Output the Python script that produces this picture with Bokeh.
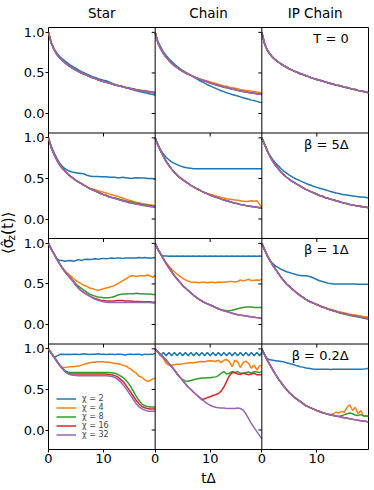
import math
from bokeh.plotting import figure
from bokeh.layouts import row
from bokeh.models import Range1d, FixedTicker, Label, Span, LinearAxis
from bokeh.core.properties import value
from bokeh.embed import file_html
from bokeh.resources import INLINE

FONT = "DejaVu Sans"
COLORS = ["#1f77b4", "#ff7f0e", "#2ca02c", "#d62728", "#9467bd"]
chis = [2, 4, 8, 16, 32]
col_titles = ["Star", "Chain", "IP Chain"]
row_notes = ["T = 0", "β = 5Δ", "β = 1Δ", "β = 0.2Δ"]
y_ticks = [0.0, 0.5, 1.0]
y_tick_labels = ["0.0", "0.5", "1.0"]
x_ticks = [0, 10]
x_tick_labels = ["0", "10"]

# time grid tΔ (step 0.5, last sample at the right edge 19.4)
t = [i * 0.5 for i in range(39)] + [19.4]

# ---------------- T = 0 ----------------
star_T0_chi2 = [1.0, 0.87, 0.80, 0.745, 0.705, 0.675, 0.645, 0.62, 0.595, 0.575, 0.555, 0.535, 0.515, 0.50, 0.485, 0.47, 0.455, 0.445, 0.43, 0.42, 0.41, 0.405, 0.39, 0.375, 0.36, 0.35, 0.34, 0.33, 0.32, 0.31, 0.30, 0.29, 0.28, 0.27, 0.265, 0.255, 0.25, 0.24, 0.235, 0.225]
star_T0_chi4 = [1.0, 0.87, 0.79, 0.73, 0.69, 0.655, 0.625, 0.60, 0.575, 0.555, 0.535, 0.515, 0.50, 0.485, 0.47, 0.455, 0.44, 0.43, 0.415, 0.405, 0.395, 0.385, 0.375, 0.365, 0.36, 0.35, 0.34, 0.335, 0.325, 0.32, 0.31, 0.305, 0.295, 0.29, 0.285, 0.28, 0.275, 0.27, 0.265, 0.26]
star_T0_chi32 = [1.0, 0.87, 0.79, 0.73, 0.69, 0.655, 0.625, 0.60, 0.575, 0.555, 0.535, 0.515, 0.50, 0.485, 0.47, 0.455, 0.44, 0.43, 0.415, 0.405, 0.395, 0.385, 0.375, 0.365, 0.355, 0.345, 0.34, 0.33, 0.32, 0.315, 0.305, 0.30, 0.29, 0.285, 0.28, 0.275, 0.27, 0.265, 0.26, 0.255]

chain_T0_chi2 = [1.0, 0.89, 0.82, 0.76, 0.715, 0.675, 0.64, 0.61, 0.58, 0.555, 0.53, 0.51, 0.49, 0.47, 0.45, 0.43, 0.41, 0.39, 0.375, 0.355, 0.34, 0.325, 0.31, 0.295, 0.28, 0.27, 0.255, 0.245, 0.235, 0.225, 0.215, 0.205, 0.195, 0.185, 0.175, 0.165, 0.16, 0.15, 0.14, 0.135]
chain_T0_chi4 = [1.0, 0.87, 0.80, 0.74, 0.695, 0.655, 0.62, 0.59, 0.565, 0.54, 0.52, 0.50, 0.485, 0.47, 0.455, 0.44, 0.43, 0.42, 0.41, 0.40, 0.39, 0.38, 0.37, 0.36, 0.35, 0.34, 0.335, 0.325, 0.32, 0.31, 0.305, 0.295, 0.29, 0.285, 0.28, 0.275, 0.27, 0.265, 0.26, 0.255]
chain_T0_chi32 = [1.0, 0.87, 0.80, 0.74, 0.695, 0.655, 0.62, 0.59, 0.565, 0.54, 0.52, 0.50, 0.485, 0.47, 0.455, 0.44, 0.425, 0.41, 0.40, 0.39, 0.375, 0.365, 0.355, 0.345, 0.335, 0.325, 0.32, 0.31, 0.30, 0.295, 0.285, 0.28, 0.27, 0.265, 0.26, 0.255, 0.25, 0.245, 0.24, 0.235]

ip_T0_all = [1.0, 0.86, 0.78, 0.73, 0.69, 0.66, 0.635, 0.61, 0.59, 0.57, 0.55, 0.535, 0.52, 0.505, 0.49, 0.48, 0.465, 0.455, 0.44, 0.43, 0.42, 0.41, 0.40, 0.39, 0.38, 0.37, 0.36, 0.35, 0.345, 0.335, 0.325, 0.32, 0.31, 0.30, 0.295, 0.285, 0.28, 0.27, 0.265, 0.255]

# ---------------- beta = 5 ----------------
star_b5_chi2 = [1.0, 0.90, 0.82, 0.75, 0.69, 0.65, 0.62, 0.60, 0.585, 0.575, 0.57, 0.565, 0.56, 0.555, 0.54, 0.53, 0.525, 0.525, 0.525, 0.52, 0.52, 0.52, 0.515, 0.515, 0.515, 0.51, 0.51, 0.515, 0.51, 0.505, 0.50, 0.505, 0.51, 0.505, 0.505, 0.505, 0.50, 0.50, 0.495, 0.49]
star_b5_chi4 = [1.0, 0.88, 0.80, 0.73, 0.67, 0.63, 0.59, 0.555, 0.525, 0.50, 0.475, 0.455, 0.435, 0.415, 0.395, 0.38, 0.37, 0.36, 0.35, 0.34, 0.33, 0.32, 0.31, 0.30, 0.29, 0.28, 0.27, 0.26, 0.245, 0.235, 0.225, 0.215, 0.205, 0.20, 0.19, 0.185, 0.18, 0.175, 0.17, 0.165]
star_b5_chi8 = [1.0, 0.88, 0.80, 0.73, 0.67, 0.63, 0.59, 0.555, 0.525, 0.50, 0.475, 0.455, 0.435, 0.415, 0.395, 0.375, 0.36, 0.345, 0.33, 0.315, 0.30, 0.29, 0.275, 0.265, 0.262, 0.252, 0.243, 0.234, 0.225, 0.216, 0.21, 0.20, 0.195, 0.19, 0.18, 0.175, 0.17, 0.165, 0.16, 0.155]
star_b5_chi32 = [1.0, 0.88, 0.80, 0.73, 0.67, 0.63, 0.59, 0.555, 0.525, 0.50, 0.475, 0.455, 0.435, 0.415, 0.395, 0.375, 0.36, 0.345, 0.33, 0.315, 0.30, 0.29, 0.275, 0.265, 0.255, 0.245, 0.235, 0.225, 0.215, 0.205, 0.20, 0.19, 0.185, 0.18, 0.17, 0.165, 0.16, 0.155, 0.15, 0.145]

chain_b5_chi2 = [1.0, 0.92, 0.85, 0.80, 0.76, 0.73, 0.705, 0.685, 0.67, 0.655, 0.645, 0.635, 0.63, 0.625, 0.62, 0.62, 0.62, 0.62, 0.62, 0.62, 0.62, 0.62, 0.62, 0.62, 0.62, 0.62, 0.62, 0.62, 0.62, 0.62, 0.62, 0.62, 0.62, 0.62, 0.62, 0.62, 0.62, 0.62, 0.62, 0.62]
chain_b5_chi4 = [1.0, 0.91, 0.84, 0.77, 0.71, 0.66, 0.615, 0.575, 0.54, 0.51, 0.485, 0.46, 0.44, 0.415, 0.395, 0.375, 0.36, 0.34, 0.325, 0.315, 0.305, 0.295, 0.285, 0.275, 0.265, 0.258, 0.25, 0.245, 0.24, 0.235, 0.23, 0.225, 0.22, 0.215, 0.22, 0.225, 0.22, 0.225, 0.18, 0.13]
chain_b5_chi32 = [1.0, 0.91, 0.84, 0.77, 0.71, 0.66, 0.615, 0.575, 0.54, 0.51, 0.485, 0.46, 0.44, 0.415, 0.395, 0.375, 0.36, 0.34, 0.325, 0.31, 0.295, 0.28, 0.27, 0.26, 0.245, 0.235, 0.225, 0.215, 0.205, 0.195, 0.19, 0.18, 0.175, 0.165, 0.16, 0.155, 0.15, 0.145, 0.14, 0.135]

ip_b5_chi2 = [1.0, 0.92, 0.84, 0.78, 0.73, 0.69, 0.655, 0.62, 0.59, 0.565, 0.54, 0.52, 0.50, 0.485, 0.47, 0.455, 0.44, 0.425, 0.415, 0.40, 0.39, 0.38, 0.37, 0.36, 0.35, 0.34, 0.33, 0.32, 0.315, 0.305, 0.30, 0.295, 0.29, 0.285, 0.28, 0.275, 0.27, 0.27, 0.265, 0.26]
ip_b5_chi32 = [1.0, 0.92, 0.84, 0.77, 0.71, 0.66, 0.62, 0.58, 0.545, 0.515, 0.49, 0.465, 0.445, 0.425, 0.405, 0.385, 0.365, 0.35, 0.335, 0.32, 0.305, 0.29, 0.28, 0.265, 0.255, 0.245, 0.235, 0.225, 0.215, 0.205, 0.195, 0.19, 0.18, 0.175, 0.165, 0.16, 0.155, 0.15, 0.145, 0.14]

# ---------------- beta = 1 ----------------
star_b1_chi2 = [1.0, 0.93, 0.87, 0.81, 0.79, 0.79, 0.78, 0.785, 0.79, 0.78, 0.79, 0.80, 0.79, 0.80, 0.805, 0.80, 0.805, 0.81, 0.805, 0.81, 0.815, 0.81, 0.815, 0.82, 0.815, 0.82, 0.82, 0.815, 0.82, 0.82, 0.82, 0.82, 0.82, 0.825, 0.82, 0.825, 0.82, 0.82, 0.82, 0.825]
star_b1_chi4 = [1.0, 0.93, 0.87, 0.81, 0.75, 0.70, 0.66, 0.63, 0.60, 0.57, 0.54, 0.52, 0.50, 0.48, 0.47, 0.45, 0.44, 0.43, 0.42, 0.43, 0.44, 0.45, 0.46, 0.47, 0.48, 0.50, 0.52, 0.54, 0.56, 0.58, 0.60, 0.60, 0.59, 0.60, 0.60, 0.60, 0.61, 0.60, 0.58, 0.61]
star_b1_chi8 = [1.0, 0.93, 0.87, 0.81, 0.75, 0.70, 0.65, 0.61, 0.575, 0.54, 0.50, 0.47, 0.445, 0.42, 0.395, 0.375, 0.36, 0.35, 0.34, 0.335, 0.33, 0.33, 0.33, 0.335, 0.345, 0.36, 0.37, 0.375, 0.375, 0.38, 0.38, 0.38, 0.385, 0.38, 0.38, 0.375, 0.375, 0.375, 0.37, 0.37]
star_b1_chi16 = [1.0, 0.93, 0.87, 0.81, 0.75, 0.70, 0.65, 0.61, 0.57, 0.53, 0.48, 0.445, 0.415, 0.39, 0.37, 0.35, 0.335, 0.32, 0.31, 0.30, 0.295, 0.29, 0.29, 0.29, 0.29, 0.295, 0.295, 0.295, 0.29, 0.29, 0.29, 0.285, 0.285, 0.285, 0.28, 0.28, 0.28, 0.28, 0.275, 0.275]
star_b1_chi32 = [1.0, 0.93, 0.87, 0.81, 0.75, 0.70, 0.65, 0.61, 0.57, 0.53, 0.48, 0.445, 0.415, 0.39, 0.37, 0.35, 0.33, 0.31, 0.30, 0.29, 0.28, 0.275, 0.27, 0.27, 0.27, 0.27, 0.27, 0.27, 0.27, 0.27, 0.27, 0.27, 0.27, 0.27, 0.27, 0.27, 0.27, 0.27, 0.265, 0.265]

chain_b1_chi2 = [1.0, 0.92, 0.86, 0.845, 0.845, 0.84, 0.845, 0.84, 0.845, 0.84, 0.845, 0.84, 0.845, 0.84, 0.845, 0.84, 0.845, 0.84, 0.845, 0.84, 0.845, 0.84, 0.845, 0.84, 0.845, 0.84, 0.845, 0.84, 0.845, 0.84, 0.845, 0.84, 0.845, 0.84, 0.845, 0.84, 0.845, 0.84, 0.845, 0.84]
chain_b1_chi4 = [1.0, 0.93, 0.87, 0.81, 0.76, 0.72, 0.68, 0.65, 0.62, 0.595, 0.57, 0.55, 0.535, 0.525, 0.52, 0.52, 0.515, 0.52, 0.52, 0.515, 0.52, 0.52, 0.515, 0.525, 0.52, 0.52, 0.525, 0.53, 0.53, 0.525, 0.53, 0.55, 0.535, 0.545, 0.56, 0.54, 0.545, 0.55, 0.545, 0.56]
chain_b1_chi8 = [1.0, 0.93, 0.87, 0.81, 0.75, 0.70, 0.65, 0.60, 0.56, 0.52, 0.48, 0.45, 0.42, 0.39, 0.36, 0.335, 0.31, 0.29, 0.27, 0.255, 0.24, 0.225, 0.21, 0.195, 0.18, 0.175, 0.17, 0.17, 0.175, 0.185, 0.195, 0.205, 0.21, 0.215, 0.215, 0.215, 0.21, 0.21, 0.21, 0.21]
chain_b1_chi32 = [1.0, 0.93, 0.87, 0.81, 0.75, 0.70, 0.65, 0.60, 0.56, 0.52, 0.48, 0.45, 0.42, 0.39, 0.36, 0.335, 0.31, 0.29, 0.27, 0.255, 0.24, 0.225, 0.21, 0.195, 0.18, 0.17, 0.16, 0.15, 0.14, 0.13, 0.12, 0.115, 0.11, 0.105, 0.10, 0.095, 0.09, 0.085, 0.08, 0.075]

ip_b1_chi2 = [1.0, 0.93, 0.84, 0.78, 0.75, 0.72, 0.70, 0.68, 0.665, 0.65, 0.64, 0.63, 0.62, 0.61, 0.605, 0.60, 0.60, 0.595, 0.585, 0.57, 0.555, 0.54, 0.53, 0.52, 0.51, 0.505, 0.50, 0.50, 0.50, 0.50, 0.50, 0.50, 0.50, 0.50, 0.50, 0.495, 0.495, 0.495, 0.495, 0.495]
ip_b1_chi4 = [1.0, 0.92, 0.85, 0.79, 0.73, 0.68, 0.63, 0.58, 0.54, 0.50, 0.47, 0.44, 0.41, 0.38, 0.355, 0.335, 0.31, 0.29, 0.275, 0.26, 0.25, 0.235, 0.222, 0.21, 0.198, 0.188, 0.178, 0.168, 0.158, 0.15, 0.142, 0.135, 0.128, 0.122, 0.116, 0.11, 0.105, 0.10, 0.096, 0.092]
ip_b1_chi8 = [1.0, 0.92, 0.85, 0.79, 0.73, 0.68, 0.63, 0.58, 0.54, 0.50, 0.47, 0.44, 0.41, 0.38, 0.355, 0.335, 0.31, 0.29, 0.275, 0.26, 0.245, 0.23, 0.215, 0.205, 0.19, 0.18, 0.17, 0.16, 0.145, 0.135, 0.128, 0.12, 0.112, 0.105, 0.098, 0.092, 0.085, 0.078, 0.072, 0.066]
ip_b1_chi32 = [1.0, 0.92, 0.85, 0.79, 0.73, 0.68, 0.63, 0.58, 0.54, 0.50, 0.47, 0.44, 0.41, 0.38, 0.355, 0.335, 0.31, 0.29, 0.275, 0.26, 0.245, 0.23, 0.215, 0.205, 0.19, 0.18, 0.17, 0.16, 0.15, 0.14, 0.135, 0.125, 0.12, 0.11, 0.105, 0.10, 0.09, 0.085, 0.08, 0.075]

# ---------------- beta = 0.2 ----------------
star_b02_chi2 = [1.0, 0.94, 0.90, 0.91, 0.93, 0.935, 0.93, 0.935, 0.93, 0.935, 0.935, 0.93, 0.935, 0.94, 0.935, 0.93, 0.935, 0.935, 0.94, 0.935, 0.935, 0.93, 0.935, 0.935, 0.93, 0.935, 0.935, 0.93, 0.925, 0.935, 0.935, 0.93, 0.935, 0.935, 0.925, 0.935, 0.93, 0.935, 0.935, 0.945]
star_b02_chi4 = [1.0, 0.95, 0.90, 0.85, 0.80, 0.775, 0.77, 0.775, 0.78, 0.78, 0.785, 0.79, 0.80, 0.81, 0.82, 0.83, 0.835, 0.835, 0.84, 0.84, 0.84, 0.835, 0.835, 0.83, 0.82, 0.82, 0.81, 0.80, 0.79, 0.77, 0.75, 0.72, 0.70, 0.66, 0.65, 0.62, 0.60, 0.61, 0.63, 0.64]
star_b02_chi8 = [1.0, 0.95, 0.90, 0.85, 0.80, 0.76, 0.73, 0.715, 0.71, 0.71, 0.71, 0.71, 0.71, 0.71, 0.71, 0.71, 0.71, 0.71, 0.71, 0.71, 0.71, 0.71, 0.71, 0.705, 0.70, 0.69, 0.67, 0.65, 0.62, 0.58, 0.53, 0.47, 0.41, 0.36, 0.32, 0.30, 0.29, 0.285, 0.285, 0.285]
star_b02_chi16 = [1.0, 0.95, 0.90, 0.85, 0.80, 0.76, 0.72, 0.70, 0.69, 0.69, 0.69, 0.69, 0.69, 0.69, 0.69, 0.69, 0.69, 0.69, 0.69, 0.69, 0.69, 0.69, 0.685, 0.68, 0.67, 0.66, 0.63, 0.60, 0.56, 0.51, 0.46, 0.41, 0.36, 0.32, 0.29, 0.275, 0.265, 0.26, 0.26, 0.26]
star_b02_chi32 = [1.0, 0.95, 0.90, 0.85, 0.80, 0.76, 0.72, 0.695, 0.68, 0.675, 0.672, 0.67, 0.67, 0.67, 0.67, 0.67, 0.67, 0.67, 0.67, 0.67, 0.67, 0.67, 0.665, 0.66, 0.65, 0.63, 0.60, 0.56, 0.52, 0.47, 0.42, 0.37, 0.32, 0.285, 0.26, 0.245, 0.235, 0.23, 0.23, 0.23]

chain_b02_chi2 = [1.0, 0.955, 0.915, 0.955, 0.915, 0.955, 0.915, 0.955, 0.915, 0.955, 0.915, 0.955, 0.915, 0.955, 0.915, 0.955, 0.915, 0.955, 0.915, 0.955, 0.915, 0.955, 0.915, 0.955, 0.915, 0.955, 0.915, 0.955, 0.915, 0.955, 0.915, 0.955, 0.915, 0.955, 0.915, 0.955, 0.915, 0.955, 0.915, 0.955]
chain_b02_chi4 = [1.0, 0.96, 0.92, 0.88, 0.82, 0.80, 0.80, 0.805, 0.81, 0.81, 0.815, 0.82, 0.825, 0.83, 0.83, 0.835, 0.84, 0.845, 0.84, 0.85, 0.855, 0.85, 0.845, 0.86, 0.83, 0.86, 0.87, 0.84, 0.78, 0.86, 0.84, 0.77, 0.83, 0.85, 0.82, 0.76, 0.80, 0.74, 0.79, 0.80]
chain_b02_chi8 = [1.0, 0.965, 0.93, 0.895, 0.86, 0.82, 0.78, 0.74, 0.69, 0.65, 0.62, 0.605, 0.60, 0.61, 0.62, 0.63, 0.635, 0.64, 0.64, 0.645, 0.645, 0.65, 0.655, 0.67, 0.70, 0.72, 0.69, 0.70, 0.72, 0.71, 0.72, 0.70, 0.70, 0.71, 0.715, 0.70, 0.72, 0.715, 0.71, 0.72]
chain_b02_chi16 = [1.0, 0.965, 0.93, 0.895, 0.86, 0.82, 0.78, 0.74, 0.69, 0.65, 0.61, 0.57, 0.53, 0.50, 0.465, 0.435, 0.405, 0.375, 0.385, 0.40, 0.41, 0.425, 0.435, 0.45, 0.48, 0.53, 0.60, 0.67, 0.71, 0.705, 0.69, 0.685, 0.70, 0.69, 0.68, 0.69, 0.70, 0.68, 0.68, 0.68]
chain_b02_chi32 = [1.0, 0.965, 0.93, 0.895, 0.86, 0.82, 0.78, 0.74, 0.69, 0.65, 0.61, 0.57, 0.53, 0.50, 0.465, 0.435, 0.405, 0.375, 0.35, 0.325, 0.305, 0.29, 0.28, 0.275, 0.27, 0.27, 0.265, 0.265, 0.265, 0.265, 0.27, 0.265, 0.245, 0.20, 0.14, 0.08, 0.03, -0.02, -0.07, -0.11]

ip_b02_chi2 = [1.0, 0.93, 0.88, 0.865, 0.86, 0.855, 0.85, 0.845, 0.84, 0.83, 0.82, 0.81, 0.80, 0.79, 0.78, 0.775, 0.765, 0.76, 0.755, 0.75, 0.75, 0.75, 0.748, 0.75, 0.748, 0.745, 0.75, 0.748, 0.75, 0.748, 0.75, 0.75, 0.748, 0.75, 0.75, 0.748, 0.75, 0.752, 0.755, 0.76]
ip_b02_chi4 = [1.0, 0.93, 0.86, 0.80, 0.74, 0.685, 0.63, 0.585, 0.54, 0.50, 0.46, 0.43, 0.40, 0.375, 0.35, 0.325, 0.30, 0.285, 0.27, 0.255, 0.24, 0.228, 0.215, 0.205, 0.195, 0.188, 0.20, 0.22, 0.21, 0.23, 0.22, 0.28, 0.31, 0.24, 0.28, 0.20, 0.24, 0.17, 0.18, 0.17]
ip_b02_chi8 = [1.0, 0.93, 0.86, 0.80, 0.74, 0.685, 0.63, 0.585, 0.54, 0.50, 0.46, 0.43, 0.40, 0.375, 0.35, 0.325, 0.30, 0.285, 0.27, 0.255, 0.24, 0.228, 0.215, 0.205, 0.195, 0.188, 0.18, 0.172, 0.17, 0.175, 0.19, 0.20, 0.21, 0.20, 0.185, 0.18, 0.19, 0.175, 0.17, 0.17]
ip_b02_chi32 = [1.0, 0.93, 0.86, 0.80, 0.74, 0.685, 0.63, 0.585, 0.54, 0.50, 0.46, 0.43, 0.40, 0.375, 0.35, 0.325, 0.30, 0.285, 0.27, 0.255, 0.24, 0.228, 0.215, 0.205, 0.195, 0.188, 0.18, 0.172, 0.165, 0.158, 0.15, 0.145, 0.14, 0.132, 0.125, 0.12, 0.115, 0.11, 0.105, 0.10]

# panels[row][col] -> series for chi = 2, 4, 8, 16, 32
panels = [
    [[star_T0_chi2, star_T0_chi4, star_T0_chi32, star_T0_chi32, star_T0_chi32],
     [chain_T0_chi2, chain_T0_chi4, chain_T0_chi32, chain_T0_chi32, chain_T0_chi32],
     [ip_T0_all, ip_T0_all, ip_T0_all, ip_T0_all, ip_T0_all]],
    [[star_b5_chi2, star_b5_chi4, star_b5_chi8, star_b5_chi32, star_b5_chi32],
     [chain_b5_chi2, chain_b5_chi4, chain_b5_chi32, chain_b5_chi32, chain_b5_chi32],
     [ip_b5_chi2, ip_b5_chi32, ip_b5_chi32, ip_b5_chi32, ip_b5_chi32]],
    [[star_b1_chi2, star_b1_chi4, star_b1_chi8, star_b1_chi16, star_b1_chi32],
     [chain_b1_chi2, chain_b1_chi4, chain_b1_chi8, chain_b1_chi32, chain_b1_chi32],
     [ip_b1_chi2, ip_b1_chi4, ip_b1_chi8, ip_b1_chi32, ip_b1_chi32]],
    [[star_b02_chi2, star_b02_chi4, star_b02_chi8, star_b02_chi16, star_b02_chi32],
     [chain_b02_chi2, chain_b02_chi4, chain_b02_chi8, chain_b02_chi16, chain_b02_chi32],
     [ip_b02_chi2, ip_b02_chi4, ip_b02_chi8, ip_b02_chi32, ip_b02_chi32]],
]

# ---- panel grid: each panel spans T_MAX in x and (Y_MAX - Y_MIN) in y ----
T_MAX = 19.4
Y_MIN, Y_MAX = -0.24, 1.06
PH = Y_MAX - Y_MIN
NR, NC = 4, 3
FW, FH = 320, 422
TOP_B, BOT_B, LAB_W = 27, 38, 20
TOTAL_H = TOP_B + FH + BOT_B
px_x = FW / (NC * T_MAX)
px_y = FH / (NR * PH)


def xoff(c):
    return c * T_MAX


def yoff(r):
    return (NR - 1 - r) * PH


p = figure(frame_width=FW, frame_height=FH,
           x_range=Range1d(0, NC * T_MAX), y_range=Range1d(Y_MIN, Y_MIN + NR * PH),
           min_border_left=48 - LAB_W, min_border_right=4, min_border_top=TOP_B, min_border_bottom=BOT_B,
           output_backend="svg", toolbar_location=None)
p.xgrid.visible = False
p.ygrid.visible = False
p.outline_line_color = "black"
p.outline_line_width = 1
p.background_fill_color = "white"
p.border_fill_color = "white"

# axes: ticks repeated for every panel
xt = [round(xoff(c) + v, 4) for c in range(NC) for v in x_ticks]
p.xaxis.ticker = FixedTicker(ticks=xt)
p.xaxis.major_label_overrides = {round(xoff(c) + v, 4): lab for c in range(NC) for v, lab in zip(x_ticks, x_tick_labels)}
yt = [round(yoff(r) + v, 4) for r in range(NR) for v in y_ticks]
p.yaxis.ticker = FixedTicker(ticks=yt)
p.yaxis.major_label_overrides = {round(yoff(r) + v, 4): lab for r in range(NR) for v, lab in zip(y_ticks, y_tick_labels)}
for ax in p.axis:
    ax.axis_line_color = None
    ax.major_tick_out = 3
    ax.major_tick_in = 0
    ax.minor_tick_out = 0
    ax.minor_tick_in = 0
    ax.major_tick_line_color = "black"
    ax.major_label_text_font = FONT
    ax.major_label_text_font_size = "13px"
    ax.major_label_text_color = "black"
    ax.major_label_standoff = 1
p.xaxis.axis_label = "tΔ"
p.xaxis.axis_label_text_font = FONT
p.xaxis.axis_label_text_font_size = "13.5px"
p.xaxis.axis_label_text_font_style = "normal"
p.xaxis.axis_label_standoff = 4
p.xaxis.axis_label_text_color = "black"

# column titles: an upper axis whose labels sit over the panel centres
tc = [round(xoff(c) + T_MAX / 2, 4) for c in range(NC)]
top = LinearAxis(ticker=FixedTicker(ticks=tc),
                 major_label_overrides={v: s for v, s in zip(tc, col_titles)})
top.axis_line_color = None
top.major_tick_out = 0
top.major_tick_in = 0
top.minor_tick_out = 0
top.minor_tick_in = 0
top.major_tick_line_color = None
top.major_label_text_font = FONT
top.major_label_text_font_size = "13.5px"
top.major_label_text_color = "black"
top.major_label_standoff = 7
p.add_layout(top, "above")

# panel dividers
for c in range(1, NC):
    p.add_layout(Span(location=xoff(c), dimension="height", line_color="black", line_width=1))
for r in range(1, NR):
    p.add_layout(Span(location=Y_MIN + r * PH, dimension="width", line_color="black", line_width=1))

# small tick marks of inner panels (as in shared matplotlib axes)
tick_x = 3.5 / px_x
tick_y = 3.5 / px_y
sx0, sy0, sx1, sy1 = [], [], [], []
for c in range(1, NC):
    for r in range(NR):
        for v in y_ticks:
            sx0.append(xoff(c) - tick_x); sx1.append(xoff(c))
            sy0.append(yoff(r) + v); sy1.append(yoff(r) + v)
for r in range(NR - 1):
    for c in range(NC):
        for v in x_ticks[1:]:
            yb = yoff(r) + Y_MIN
            sx0.append(xoff(c) + v); sx1.append(xoff(c) + v)
            sy0.append(yb); sy1.append(yb - tick_y)
p.segment(sx0, sy0, sx1, sy1, line_color="black", line_width=1)

# curves
for r in range(NR):
    for c in range(NC):
        xs = [xoff(c) + ti for ti in t]
        for k, ys in enumerate(panels[r][c]):
            kw = dict(line_color=COLORS[k], line_width=1.5)
            if r == NR - 1 and c == 0:
                kw["legend_label"] = f"χ = {chis[k]}"
            p.line(xs, [yoff(r) + v for v in ys], **kw)

lg = p.legend[0]
lg.location = (8, 10)
lg.label_text_font = FONT
lg.label_text_font_size = "8px"
lg.label_text_line_height = 0.8
lg.glyph_width = 20
lg.glyph_height = 5
lg.label_height = 5
lg.label_standoff = 6
lg.spacing = 0
lg.padding = 0
lg.margin = 0
lg.border_line_color = None
lg.background_fill_alpha = 0

# row annotations (right column)
for r in range(NR):
    p.add_layout(Label(x=xoff(NC - 1) + 15.8, y=yoff(r) + 1.015, text=row_notes[r],
                       text_align="right", text_baseline="top", text_font=FONT,
                       text_font_size="13px", text_color="black"))

# y label  <σ_z(t)>  in a narrow strip to the left (rotated, with subscript)
lab = figure(width=LAB_W, height=TOTAL_H, x_range=Range1d(0, LAB_W), y_range=Range1d(0, TOTAL_H),
             x_axis_location=None, y_axis_location=None, min_border=0, outline_line_color=None,
             output_backend="svg", toolbar_location=None)
lab.xgrid.visible = False
lab.ygrid.visible = False
yc = TOTAL_H - (TOP_B + FH / 2)
y0 = yc - 24
lab.text(x=[7.5], y=[y0], text=["⟨σ̂"], angle=math.pi / 2, text_align="left", text_baseline="middle",
         text_font=value(FONT), text_font_size="15px", text_color="black")
lab.text(x=[10.8], y=[y0 + 15.5], text=["z"], angle=math.pi / 2, text_align="left", text_baseline="middle",
         text_font=value(FONT), text_font_size="10.5px", text_color="black")
lab.text(x=[7.5], y=[y0 + 22], text=["(t)⟩"], angle=math.pi / 2, text_align="left", text_baseline="middle",
         text_font=value(FONT), text_font_size="15px", text_color="black")

layout = row(lab, p, spacing=0)
open("out.html", "w").write(file_html(layout, INLINE))
